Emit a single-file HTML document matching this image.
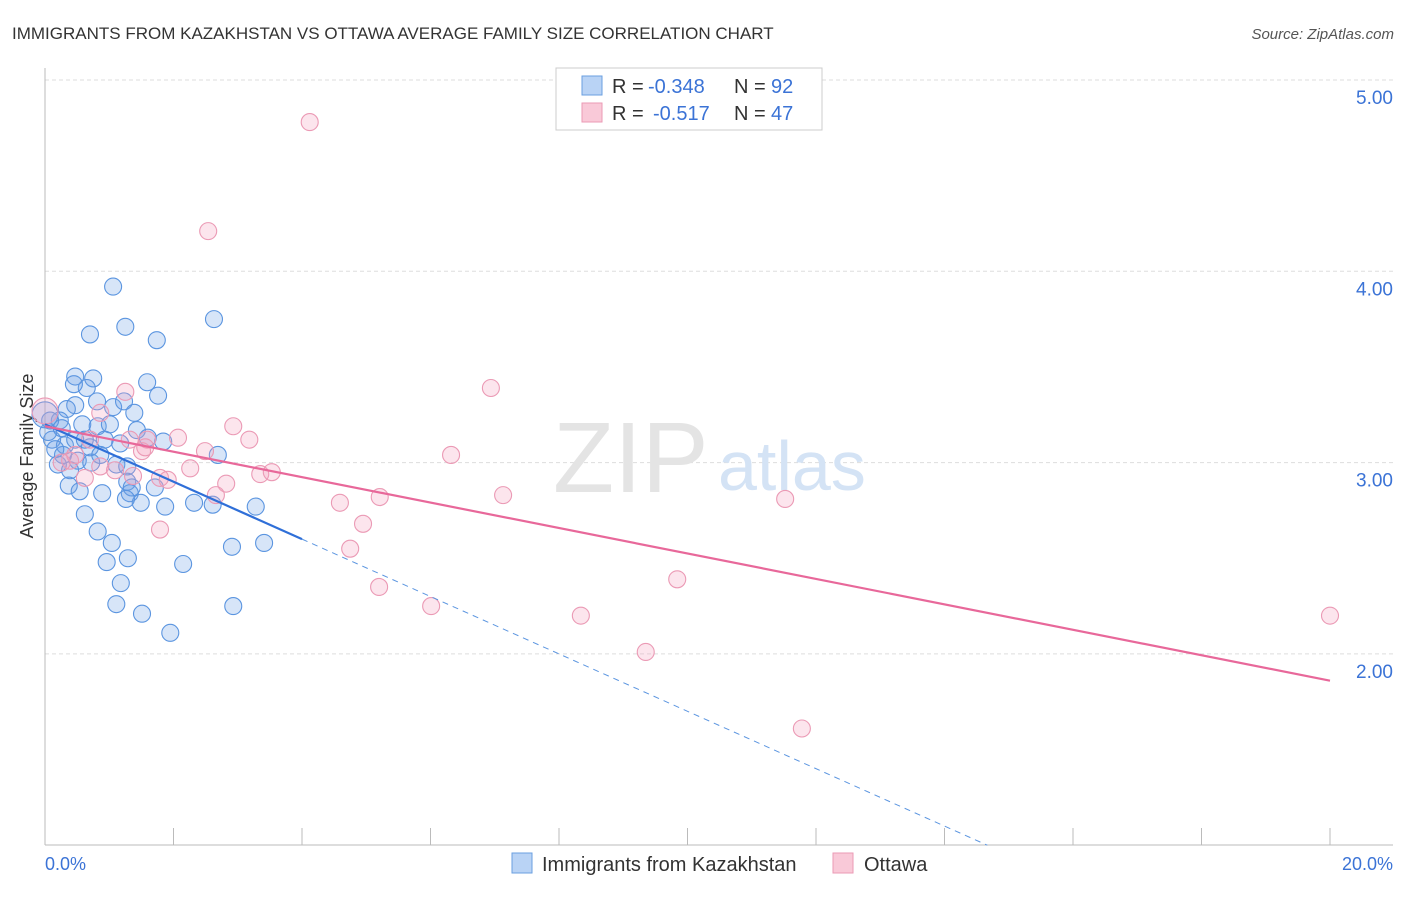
<!DOCTYPE html>
<html><head><meta charset="utf-8"><style>
body{margin:0;background:#fff;font-family:"Liberation Sans",sans-serif}
svg text{font-family:"Liberation Sans",sans-serif}
</style></head><body>
<svg width="1406" height="892" xmlns="http://www.w3.org/2000/svg">
<text x="12" y="39" font-size="17" fill="#333">IMMIGRANTS FROM KAZAKHSTAN VS OTTAWA AVERAGE FAMILY SIZE CORRELATION CHART</text>
<text x="1394" y="39" font-size="15" fill="#555" font-style="italic" text-anchor="end">Source: ZipAtlas.com</text>
<g id="grid"></g>
<text x="553" y="492" font-size="100" fill="#e4e4e4" font-family="Liberation Serif">ZIP</text>
<text x="718" y="490" font-size="70" fill="#d4e3f5">atlas</text>
<line x1="45" y1="68" x2="45" y2="845" stroke="#bbb"/>
<line x1="45" y1="845" x2="1393" y2="845" stroke="#bbb"/>
<g id="xticks"></g>
<text x="33" y="456" font-size="18" fill="#333" text-anchor="middle" transform="rotate(-90 33 456)">Average Family Size</text>
<text x="45" y="870" font-size="18" fill="#3b73d6">0.0%</text>
<text x="1393" y="870" font-size="18" fill="#3b73d6" text-anchor="end">20.0%</text>
<g id="pts"></g>
<g id="lines"></g>
<g>
<rect x="556" y="68" width="266" height="62" fill="#fff" stroke="#ccc"/>
<rect x="582" y="76" width="20" height="19" fill="#b9d3f5" stroke="#6a9fe0"/>
<rect x="582" y="103" width="20" height="19" fill="#f9c9d8" stroke="#eb9ab5"/>
<text x="612" y="93" font-size="20" fill="#333">R =</text>
<text x="648" y="93" font-size="20" fill="#3b73d6">-0.348</text>
<text x="734" y="93" font-size="20" fill="#333">N =</text>
<text x="771" y="93" font-size="20" fill="#3b73d6">92</text>
<text x="612" y="120" font-size="20" fill="#333">R =</text>
<text x="653" y="120" font-size="20" fill="#3b73d6">-0.517</text>
<text x="734" y="120" font-size="20" fill="#333">N =</text>
<text x="771" y="120" font-size="20" fill="#3b73d6">47</text>
</g>
<g>
<rect x="512" y="853" width="20" height="20" fill="#b9d3f5" stroke="#6a9fe0"/>
<text x="542" y="871" font-size="20" fill="#333">Immigrants from Kazakhstan</text>
<rect x="833" y="853" width="20" height="20" fill="#f9c9d8" stroke="#eb9ab5"/>
<text x="864" y="871" font-size="20" fill="#333">Ottawa</text>
</g>
</svg>
<script>
const yTicks=[5,4,3,2];
const yTickLabels=["5.00","4.00","3.00","2.00"];
const blueX=[1.06,1.25,0.70,1.74,2.63,0.47,0.75,0.65,1.59,1.76,0.45,0.47,0.81,1.06,1.23,1.39,0.34,0.23,0.58,0.82,1.01,1.43,1.60,1.84,2.69,0.11,0.31,0.47,0.70,0.93,1.17,0.28,0.51,0.72,1.11,1.28,0.37,0.54,0.89,1.28,1.32,1.35,1.49,1.26,1.71,1.87,2.32,2.61,3.28,0.62,0.82,1.04,2.91,3.41,0.96,1.29,2.15,1.18,1.11,2.93,1.51,1.95,0.08,0.05,0.16,0.26,0.39,0.86,0.62,0.20,0.0];
const blueY=[3.92,3.71,3.67,3.64,3.75,3.45,3.44,3.39,3.42,3.35,3.41,3.30,3.32,3.29,3.32,3.26,3.28,3.22,3.20,3.19,3.20,3.17,3.13,3.11,3.04,3.12,3.09,3.12,3.08,3.12,3.10,3.04,3.01,3.00,2.99,2.98,2.88,2.85,2.84,2.90,2.84,2.87,2.79,2.81,2.87,2.77,2.79,2.78,2.77,2.73,2.64,2.58,2.56,2.58,2.48,2.50,2.47,2.37,2.26,2.25,2.21,2.11,3.22,3.16,3.07,3.18,2.96,3.04,3.12,2.99,3.25];
const pinkX=[4.12,2.54,6.94,1.25,0.86,2.07,2.93,3.18,2.49,2.26,3.35,3.53,1.59,1.51,1.79,1.91,2.82,2.66,4.59,5.21,7.13,11.52,6.32,4.95,1.79,4.75,5.20,6.01,8.34,9.84,9.35,20.0,11.78,1.09,0.62,1.32,0.39,0.26,0.86,1.37,0.70,0.47,1.56,0.0];
const pinkY=[4.78,4.21,3.39,3.37,3.26,3.13,3.19,3.12,3.06,2.97,2.94,2.95,3.12,3.06,2.92,2.91,2.89,2.83,2.79,2.82,2.83,2.81,3.04,2.68,2.65,2.55,2.35,2.25,2.20,2.39,2.01,2.20,1.61,2.96,2.92,3.12,3.01,3.00,2.98,2.93,3.12,3.04,3.08,3.27];
const blueTrend=[3.20,-0.15];
const pinkTrend=[3.19,-0.0665];
const NS="http://www.w3.org/2000/svg";
const sx=p=>45+p/20*1285, sy=v=>80+(5-v)*191.3;
function mk(t,a,p){const e=document.createElementNS(NS,t);for(const k in a)e.setAttribute(k,a[k]);p.appendChild(e);return e;}
const grid=document.getElementById('grid');
yTicks.forEach((v,i)=>{
 const l=mk('line',{x1:45,x2:1393,y1:sy(v),y2:sy(v),stroke:'#ddd','stroke-dasharray':'4 3'},grid);
 
 
 const t=mk('text',{x:1393,y:sy(v)+24,'font-size':19,fill:'#3b73d6','text-anchor':'end'},grid);
 t.textContent=yTickLabels[i];
 
 
});
const xt=document.getElementById('xticks');
for(let p=0;p<=20;p+=2){
 const l=mk('line',{x1:sx(p),x2:sx(p),y1:828,y2:845,stroke:'#bbb'},xt);
 
 
}
const pts=document.getElementById('pts');
blueX.forEach((x,i)=>{
 const c=mk('circle',{cx:sx(x),cy:sy(blueY[i]),r:(x===0?13:8.5),fill:'rgba(110,160,230,0.28)',stroke:'#5b95e0','stroke-width':1.1},pts);
 
 
});
pinkX.forEach((x,i)=>{
 const c=mk('circle',{cx:sx(x),cy:sy(pinkY[i]),r:(x===0?13:8.5),fill:'rgba(245,160,190,0.28)',stroke:'#eb9ab5','stroke-width':1.1},pts);
 
 
});
const lg=document.getElementById('lines');
const bEnd=(1-blueTrend[0])/blueTrend[1];
let l1=mk('line',{x1:sx(0),y1:sy(blueTrend[0]),x2:sx(4),y2:sy(blueTrend[0]+4*blueTrend[1]),stroke:'#2f6fd8','stroke-width':2.2},lg);


let l2=mk('line',{x1:sx(4),y1:sy(blueTrend[0]+4*blueTrend[1]),x2:sx(bEnd),y2:sy(1),stroke:'#5b95e0','stroke-width':1,'stroke-dasharray':'6 5'},lg);


let l3=mk('line',{x1:sx(0),y1:sy(pinkTrend[0]),x2:sx(20),y2:sy(pinkTrend[0]+20*pinkTrend[1]),stroke:'#e8689a','stroke-width':2.2},lg);


</script>
</body></html>
